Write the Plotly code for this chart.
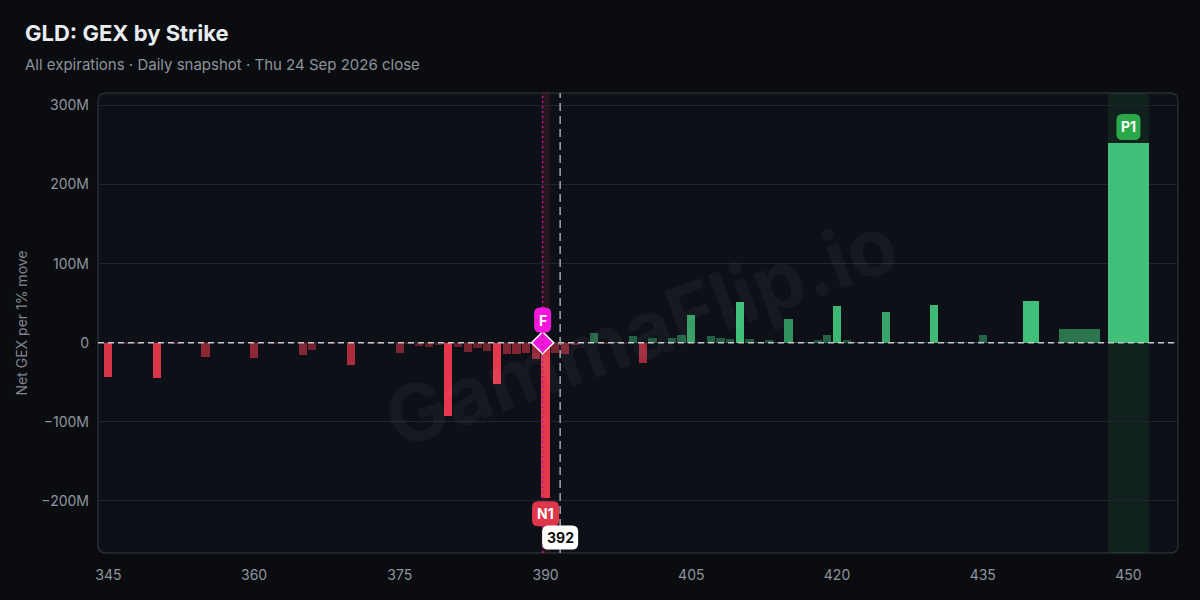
import numpy as np
import plotly.graph_objects as go

# ---------------- data ----------------
strikes = [345, 346, 347, 348, 349, 350, 351, 352, 353, 354,
           355, 356, 357, 358, 359, 360, 361, 362, 363, 364,
           365, 366, 367, 368, 369, 370, 371, 372, 373, 374,
           375, 376, 377, 378, 379, 380, 381, 382, 383, 384,
           385, 386, 387, 388, 389, 390, 391, 392, 393, 394,
           395, 396, 397, 398, 399, 400, 401, 402, 403, 404,
           405, 406, 407, 408, 409, 410, 411, 412, 413, 414,
           415, 416, 417, 418, 419, 420, 421, 422, 423, 424,
           425, 426, 427, 428, 429, 430, 431, 432, 433, 434,
           435, 438, 440, 445, 450]
gex_m = [-43.5, -0.3, -1.0, -1.0, -0.8, -44.8, -0.3, -1.2, -0.8, -0.3,
         -18.2, -0.3, -0.8, -0.8, -0.3, -19.4, -0.3, -1.0, -0.8, -0.3,
         -15.6, -9.3, -0.5, -1.0, -0.8, -28.3, -0.3, -1.2, -1.2, -0.5,
         -13.1, -1.5, -4.2, -5.5, -2.5, -92.0, -5.5, -11.8, -6.8, -10.6,
         -52.4, -14.4, -14.4, -13.1, -20.7, -196.0, -12.7, -13.9, -2.5, -0.5,
         12.0, -1.0, 0.5, -1.2, 8.5, -25.3, 6.0, 0.8, 6.0, 9.7,
         35.0, 0.8, 8.5, 6.0, 4.7, 51.5, 4.7, 1.0, 3.4, 0.8,
         30.0, 1.2, 1.0, 3.4, 9.7, 46.4, 3.4, 1.0, 0.5, 0.8,
         38.8, 0.8, 0.5, 0.5, 0.5, 47.7, 0.5, 0.5, 0.5, 0.5,
         9.7, 0.5, 52.8, 17.3, 253.0]

spot = 391.5
flip = 389.7
neg_level = {"label": "N1", "strike": 390}
pos_level = {"label": "P1", "strike": 450}

y_tick_vals = [300, 200, 100, 0, -100, -200]
y_tick_text = ["300M", "200M", "100M", "0", "\u2212100M", "\u2212200M"]
x_tick_vals = [345, 360, 375, 390, 405, 420, 435, 450]

title = "GLD: GEX by Strike"
subtitle = "All expirations \u00b7 Daily snapshot \u00b7 Thu 24 Sep 2026 close"

# ---------------- style ----------------
FONT = "Inter"
PAPER = "#0a0c0f"
PLOT_BG = "#0d1017"
GRID = "#20242b"
BORDER = "#272b33"
RED = (230, 56, 76)
GREEN = (64, 192, 120)
MAGENTA = "#f316dc"

X_RANGE = [343.93, 455.1]
Y_RANGE = [-265.8, 315.7]
W, H = 1200, 600
ML, MR, MT, MB = 98, 22, 93, 47
PW, PH = W - ML - MR, H - MT - MB

s = np.array(strikes, dtype=float)
v = np.array(gex_m, dtype=float)
gaps = np.diff(s)
left_gap = np.r_[np.inf, gaps]
right_gap = np.r_[gaps, np.inf]
widths = 0.84 * np.minimum(left_gap, right_gap)

alpha = np.clip(0.35 + 0.65 * np.abs(v) / 50.0, 0.35, 1.0)
colors = [
    f"rgba({RED[0]},{RED[1]},{RED[2]},{a:.3f})" if val < 0
    else f"rgba({GREEN[0]},{GREEN[1]},{GREEN[2]},{a:.3f})"
    for val, a in zip(v, alpha)
]

fig = go.Figure()

fig.add_trace(go.Bar(
    x=s, y=v, width=widths,
    marker=dict(color=colors, line=dict(width=0)),
    hoverinfo="x+y", showlegend=False,
))

# dashed zero line (drawn as a trace so the flip marker sits over it)
fig.add_trace(go.Scatter(
    x=X_RANGE, y=[0, 0], mode="lines",
    line=dict(color="#c5c9ce", width=1.5, dash="6px,4px"),
    hoverinfo="skip", showlegend=False,
))

# flip marker
fig.add_trace(go.Scatter(
    x=[flip], y=[0], mode="markers",
    marker=dict(symbol="diamond", size=17, color=MAGENTA,
                line=dict(color="white", width=1.5)),
    hoverinfo="skip", showlegend=False,
))


def rpath(cx, cy, w, h, r):
    x0, x1 = cx - w / 2, cx + w / 2
    y0, y1 = cy - h / 2, cy + h / 2
    return (f"M{x0 + r},{y0} L{x1 - r},{y0} Q{x1},{y0} {x1},{y0 + r} "
            f"L{x1},{y1 - r} Q{x1},{y1} {x1 - r},{y1} L{x0 + r},{y1} "
            f"Q{x0},{y1} {x0},{y1 - r} L{x0},{y0 + r} Q{x0},{y0} {x0 + r},{y0} Z")


shapes = []
# rounded plot background
rx, ry = 8 / PW, 8 / PH
shapes.append(dict(
    type="path", xref="paper", yref="paper", layer="below",
    path=(f"M{rx},0 L{1 - rx},0 Q1,0 1,{ry} L1,{1 - ry} Q1,1 {1 - rx},1 "
          f"L{rx},1 Q0,1 0,{1 - ry} L0,{ry} Q0,0 {rx},0 Z"),
    fillcolor=PLOT_BG, line=dict(color=BORDER, width=1.5),
))

# highlight bands for key strikes
n_idx = strikes.index(neg_level["strike"])
p_idx = strikes.index(pos_level["strike"])
shapes.append(dict(
    type="rect", xref="x", yref="paper", layer="below",
    x0=s[n_idx] - widths[n_idx] / 2, x1=s[n_idx] + widths[n_idx] / 2, y0=0, y1=1,
    fillcolor="rgba(230,56,76,0.12)", line=dict(width=0),
))
shapes.append(dict(
    type="rect", xref="x", yref="paper", layer="below",
    x0=s[p_idx] - widths[p_idx] / 2, x1=s[p_idx] + widths[p_idx] / 2, y0=0, y1=1,
    fillcolor="rgba(46,168,80,0.12)", line=dict(width=0),
))

# flip line and spot line
shapes.append(dict(
    type="line", xref="x", yref="paper", x0=flip, x1=flip, y0=0, y1=1,
    line=dict(color="#b8169c", width=1.5, dash="2px,3px"), layer="above",
))
shapes.append(dict(
    type="line", xref="x", yref="paper", x0=spot, x1=spot, y0=0, y1=1,
    line=dict(color="#a3a7ad", width=1.5, dash="8px,5px"), layer="above",
))


# label boxes
def label_box(xa, ya, yref, cy, w, h, color):
    return dict(
        type="path", xref="x", yref=yref, xsizemode="pixel", ysizemode="pixel",
        xanchor=xa, yanchor=ya, path=rpath(0, cy, w, h, 6),
        fillcolor=color, line=dict(width=0), layer="above",
    )


shapes.append(label_box(flip, 0, "y", 22.7, 17, 25, MAGENTA))
shapes.append(label_box(s[n_idx], v[n_idx], "y", -16, 27, 25, "#e0364b"))
shapes.append(label_box(s[p_idx], v[p_idx], "y", 15.7, 24, 26, "#2aa84a"))
shapes.append(label_box(spot, 0, "paper", 15.4, 36, 24, "#ffffff"))

annotations = []
lab_font = dict(family=FONT, size=14, color="white", weight="bold")
common = dict(showarrow=False, xanchor="center", yanchor="middle")
annotations.append(dict(x=flip, y=0, xref="x", yref="y", text="F",
                        yshift=22.7, font=lab_font, **common))
annotations.append(dict(x=s[n_idx], y=v[n_idx], xref="x", yref="y",
                        text=neg_level["label"], yshift=-16, font=lab_font, **common))
annotations.append(dict(x=s[p_idx], y=v[p_idx], xref="x", yref="y",
                        text=pos_level["label"], yshift=15.7, font=lab_font, **common))
annotations.append(dict(x=spot, y=0, xref="x", yref="paper", text=f"{spot:.0f}",
                        yshift=15.4, font=dict(family=FONT, size=14, color="#111111",
                                               weight="bold"), **common))

# title & subtitle
annotations.append(dict(x=(23 - ML) / PW, y=(H - MB - 33) / PH, xref="paper", yref="paper",
                        xanchor="left", yanchor="middle", text=title, showarrow=False,
                        font=dict(family=FONT, size=22, color="#e8ebef", weight="bold")))
annotations.append(dict(x=(23 - ML) / PW, y=(H - MB - 64) / PH, xref="paper", yref="paper",
                        xanchor="left", yanchor="middle", text=subtitle, showarrow=False,
                        font=dict(family=FONT, size=15, color="#8d939c")))

# watermark
annotations.append(dict(x=(640 - ML) / PW, y=(H - MB - 330) / PH, xref="paper", yref="paper",
                        text="GammaFlip.io", showarrow=False, textangle=-20,
                        font=dict(family=FONT, size=80, color="rgba(255,255,255,0.04)",
                                  weight="bold")))

fig.update_layout(
    width=W, height=H,
    margin=dict(l=ML, r=MR, t=MT, b=MB),
    paper_bgcolor=PAPER, plot_bgcolor="rgba(0,0,0,0)",
    font=dict(family=FONT, color="#8f959e", size=14),
    shapes=shapes, annotations=annotations,
    bargap=0, showlegend=False,
    xaxis=dict(range=X_RANGE, tickvals=x_tick_vals, showgrid=False, zeroline=False,
               showline=False, ticks="", tickfont=dict(size=14, color="#8f959e"),
               ticklabelstandoff=12, fixedrange=True),
    yaxis=dict(range=Y_RANGE, tickvals=y_tick_vals, ticktext=y_tick_text,
               showgrid=True, gridcolor=GRID, gridwidth=1, zeroline=False,
               showline=False, ticks="", tickfont=dict(size=14, color="#8f959e"),
               ticklabelstandoff=8,
               title=dict(text="Net GEX per 1% move", font=dict(size=14, color="#7f8690"),
                          standoff=10),
               fixedrange=True),
)

fig.write_html(
    "out.html",
    config={"displayModeBar": False},
    post_script="document.body.style.margin='0';document.body.style.overflow='hidden';",
)
